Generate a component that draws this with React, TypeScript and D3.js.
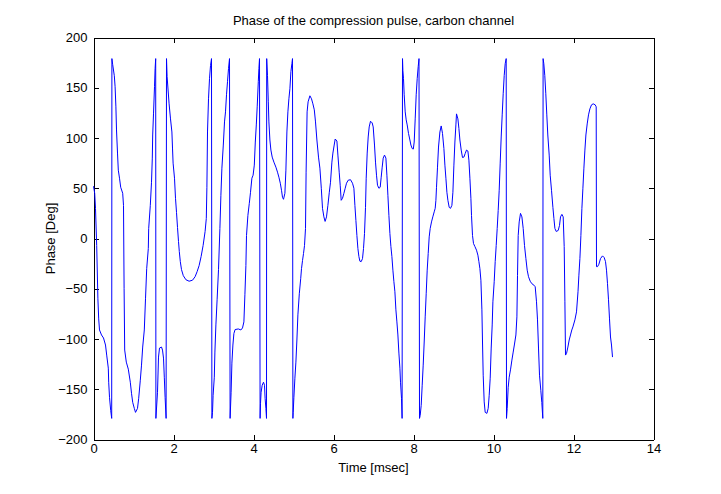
import { useRef, useEffect } from "react";
import * as d3 from "d3";

// wrapped phase of the carbon channel, [time msec, phase deg]
const phaseTrace: [number, number][] = [
  [0.0, 52], [0.03, 45], [0.05, 30], [0.08, -7], [0.11, -60], [0.13, -80], [0.15, -91],
  [0.2, -96], [0.25, -99], [0.3, -106], [0.33, -116], [0.37, -129], [0.38, -143],
  [0.4, -158], [0.43, -171], [0.455, -179],
  [0.46, 179], [0.48, 173], [0.52, 162], [0.54, 151], [0.56, 131], [0.575, 108],
  [0.6, 85], [0.62, 68], [0.65, 60], [0.68, 51], [0.73, 45], [0.75, 33], [0.765, -50],
  [0.78, -111], [0.82, -123], [0.87, -130], [0.92, -143], [0.95, -154], [0.98, -163],
  [1.02, -169], [1.05, -173], [1.1, -169], [1.13, -159], [1.17, -141], [1.2, -126],
  [1.23, -108], [1.27, -91], [1.3, -60], [1.33, -30], [1.37, -10], [1.38, 10],
  [1.42, 33], [1.45, 56], [1.47, 80], [1.48, 103], [1.5, 124], [1.525, 151],
  [1.54, 169], [1.555, 179],
  [1.56, -179], [1.6, -153], [1.625, -118], [1.65, -109], [1.7, -108], [1.725, -111],
  [1.75, -119], [1.77, -138], [1.79, -158], [1.815, -179],
  [1.825, 179], [1.84, 161], [1.89, 134], [1.925, 119], [1.96, 106], [1.975, 90],
  [1.99, 75], [2.025, 60], [2.05, 40], [2.075, 26], [2.1, 11], [2.125, -3],
  [2.145, -13], [2.17, -23], [2.2, -31], [2.245, -37], [2.31, -41], [2.39, -42.5],
  [2.475, -41.5], [2.54, -38], [2.59, -33], [2.64, -27], [2.69, -18], [2.74, -7],
  [2.79, 7], [2.82, 20], [2.835, 51], [2.85, 106], [2.875, 139], [2.9, 159],
  [2.925, 172], [2.95, 179],
  [2.96, -179], [2.975, -173], [2.99, -156], [3.02, -138], [3.035, -113], [3.06, -86],
  [3.09, -61], [3.125, -31], [3.16, 10], [3.185, 43], [3.21, 70], [3.245, 93],
  [3.275, 116], [3.3, 126], [3.325, 143], [3.35, 156], [3.375, 169], [3.4, 179],
  [3.415, -179], [3.44, -153], [3.46, -124], [3.485, -106], [3.51, -94.5],
  [3.54, -90.6], [3.62, -90], [3.685, -91], [3.725, -89], [3.76, -83], [3.785, -56],
  [3.81, -27], [3.825, 3], [3.86, 23], [3.895, 35], [3.925, 46], [3.96, 60],
  [3.99, 63], [4.02, 73], [4.045, 96], [4.07, 113], [4.0925, 131], [4.12, 156],
  [4.135, 169], [4.15, 179],
  [4.165, -179], [4.175, -164], [4.19, -153], [4.2175, -146], [4.25, -143],
  [4.275, -146], [4.29, -159], [4.31, -169], [4.325, -179],
  [4.33, 179], [4.35, 162], [4.37, 136], [4.385, 116], [4.41, 98], [4.435, 88],
  [4.4675, 81], [4.51, 76], [4.56, 71], [4.6, 66], [4.635, 61], [4.67, 55],
  [4.7, 48], [4.725, 41], [4.75, 39], [4.785, 45], [4.81, 68], [4.835, 106],
  [4.86, 126], [4.885, 139], [4.91, 149], [4.935, 166], [4.96, 174], [4.975, 179],
  [4.985, -179], [4.9925, -173], [5.01, -158], [5.035, -139], [5.06, -123],
  [5.085, -101], [5.11, -76], [5.145, -55], [5.18, -40], [5.2, -30], [5.225, -22],
  [5.25, -15], [5.275, -7], [5.3, 10], [5.315, 66], [5.34, 126], [5.365, 136],
  [5.41, 142], [5.45, 139], [5.485, 134], [5.52, 128], [5.55, 116], [5.585, 98],
  [5.625, 81], [5.66, 70], [5.695, 50], [5.725, 30], [5.76, 21.5], [5.79, 17],
  [5.825, 21.5], [5.86, 33], [5.895, 46], [5.925, 56], [5.96, 76], [5.985, 85],
  [6.0175, 93], [6.0425, 99], [6.085, 97], [6.11, 83], [6.1425, 66], [6.1675, 53],
  [6.1925, 38], [6.225, 40], [6.26, 45], [6.2925, 50], [6.325, 55], [6.3675, 58],
  [6.425, 58.5], [6.475, 55], [6.51, 50], [6.535, 33], [6.56, 18], [6.585, 3],
  [6.61, -10], [6.635, -18], [6.66, -22.6], [6.6925, -23], [6.725, -20], [6.75, -10],
  [6.775, 5], [6.8, 31], [6.8175, 60], [6.8425, 85], [6.8675, 101], [6.8925, 111],
  [6.925, 116.7], [6.9675, 115], [6.9925, 111], [7.025, 93], [7.05, 76], [7.075, 63],
  [7.1, 53], [7.135, 50], [7.1675, 51], [7.1925, 61], [7.2175, 71], [7.2425, 80],
  [7.275, 83], [7.31, 80], [7.335, 63], [7.36, 43], [7.385, 23], [7.41, 5],
  [7.435, -8], [7.46, -18], [7.485, -31.5], [7.51, -43], [7.535, -53], [7.56, -71],
  [7.585, -83], [7.61, -96], [7.635, -114], [7.66, -129], [7.675, -143], [7.7, -159],
  [7.715, -179],
  [7.725, 179], [7.735, 167], [7.75, 159], [7.7675, 143], [7.7925, 126], [7.8175, 118],
  [7.8425, 113], [7.875, 104.5], [7.91, 98], [7.935, 93], [7.9675, 89.5], [7.995, 89],
  [8.0175, 96], [8.0425, 119], [8.0675, 143], [8.0925, 159], [8.1175, 171],
  [8.1375, 179],
  [8.15, -179], [8.1675, -176], [8.1925, -166], [8.2175, -146], [8.2425, -126],
  [8.2675, -103], [8.2925, -78], [8.3175, -55], [8.3425, -31.5], [8.3675, -15],
  [8.3925, 1.6], [8.4175, 10], [8.45, 16.5], [8.4825, 21.5], [8.5175, 26.5],
  [8.5425, 30], [8.56, 38], [8.575, 51], [8.6, 71], [8.625, 91], [8.66, 106],
  [8.6925, 112], [8.725, 104.5], [8.76, 89.5], [8.785, 73], [8.81, 60], [8.835, 46],
  [8.86, 38], [8.8925, 31], [8.925, 30], [8.96, 33], [8.985, 46], [9.01, 73],
  [9.035, 96], [9.06, 113], [9.075, 124], [9.11, 119], [9.135, 109.5], [9.16, 98],
  [9.1925, 88], [9.225, 80.6], [9.26, 81], [9.2925, 84.6], [9.325, 88], [9.36, 87],
  [9.385, 78], [9.41, 60], [9.435, 40], [9.45, 23], [9.475, 3], [9.5, -5],
  [9.535, -8], [9.575, -11.6], [9.61, -16.6], [9.635, -23], [9.66, -30],
  [9.685, -41.5], [9.71, -71], [9.725, -103], [9.7425, -136], [9.7675, -162.6],
  [9.7925, -173], [9.835, -174], [9.8675, -169], [9.8925, -156], [9.9175, -139],
  [9.9425, -109], [9.9675, -86], [9.985, -63], [10.0175, -43], [10.0425, -23],
  [10.0675, -7], [10.0925, 10], [10.1175, 28], [10.1425, 48], [10.1675, 75],
  [10.1925, 101], [10.2175, 123], [10.2425, 144], [10.2675, 162], [10.2925, 174],
  [10.3175, 179],
  [10.325, -179], [10.3425, -169], [10.3675, -148], [10.3925, -138], [10.4275, -130],
  [10.46, -121], [10.4925, -113], [10.525, -105], [10.56, -96], [10.585, -78],
  [10.6, -37], [10.6175, 3], [10.6425, 16.5], [10.675, 25], [10.71, 21.5],
  [10.7425, 10], [10.775, -7], [10.81, -20], [10.8425, -31.5], [10.875, -38],
  [10.9175, -42.5], [10.96, -45], [11.01, -46.4], [11.0425, -48], [11.075, -63],
  [11.1, -81], [11.125, -109], [11.15, -136], [11.1825, -151], [11.2075, -163],
  [11.2325, -179],
  [11.24, 179], [11.2575, 174], [11.2825, 162], [11.3075, 144], [11.3325, 123],
  [11.3575, 103], [11.3925, 83], [11.4175, 63], [11.45, 48], [11.485, 31],
  [11.51, 20], [11.535, 10], [11.5675, 7], [11.6175, 8], [11.65, 13], [11.675, 21.5],
  [11.71, 24], [11.7425, 21.5], [11.7675, -8], [11.785, -63], [11.8, -116],
  [11.825, -114.5], [11.86, -108], [11.8925, -101], [11.925, -96], [11.9575, -91],
  [11.985, -88], [12.035, -81], [12.075, -73], [12.1125, -53], [12.135, -36.5],
  [12.16, -20], [12.185, 3], [12.21, 30], [12.235, 50], [12.26, 70], [12.285, 88],
  [12.31, 103], [12.3425, 114], [12.375, 123], [12.41, 129], [12.45, 133],
  [12.4925, 134], [12.5425, 133], [12.5675, 131], [12.575, -28], [12.6, -28],
  [12.635, -25.6], [12.675, -20], [12.725, -17.3], [12.7675, -19], [12.8, -23],
  [12.825, -31.5], [12.85, -45], [12.875, -61], [12.9, -80], [12.925, -98],
  [12.95, -106], [12.975, -118],
];

const xTicks = [0, 2, 4, 6, 8, 10, 12, 14];
const yTicks = [-200, -150, -100, -50, 0, 50, 100, 150, 200];

const chartTitle = "Phase of the compression pulse, carbon channel";
const xLabel = "Time [msec]";
const yLabel = "Phase [Deg]";

const W = 721;
const H = 494;
const FONT = "'Liberation Sans', Arial, sans-serif";

export default function App() {
  const svgRef = useRef<SVGSVGElement | null>(null);

  useEffect(() => {
    const svg = d3.select(svgRef.current);
    svg.selectAll("*").remove();

    const left = 93.5, right = 653.5, top = 37.5, bottom = 439.5;
    const x = d3.scaleLinear().domain([0, 14]).range([left, right]);
    const y = d3.scaleLinear().domain([-200, 200]).range([bottom, top]);

    svg.append("rect").attr("width", W).attr("height", H).attr("fill", "#fff");

    // box + inward ticks on all four sides, labels only bottom/left
    const styleAxis = (g: any) => {
      g.selectAll("path,line").attr("stroke", "#000").attr("shape-rendering", "crispEdges");
      g.selectAll("text")
        .attr("fill", "#000")
        .style("font-family", FONT)
        .style("font-size", "13px");
    };

    svg.append("g")
      .attr("transform", `translate(0,${bottom})`)
      .call(d3.axisBottom(x).tickValues(xTicks).tickSizeInner(-5).tickSizeOuter(0).tickPadding(4).tickFormat(d3.format("d")))
      .call(styleAxis);
    svg.append("g")
      .attr("transform", `translate(0,${top})`)
      .call(d3.axisTop(x).tickValues(xTicks).tickSizeInner(-5).tickSizeOuter(0).tickFormat(() => ""))
      .call(styleAxis);
    svg.append("g")
      .attr("transform", `translate(${left},0)`)
      .call(d3.axisLeft(y).tickValues(yTicks).tickSizeInner(-5).tickSizeOuter(0).tickPadding(6).tickFormat(d3.format("d")))
      .call(styleAxis);
    svg.append("g")
      .attr("transform", `translate(${right},0)`)
      .call(d3.axisRight(y).tickValues(yTicks).tickSizeInner(-5).tickSizeOuter(0).tickFormat(() => ""))
      .call(styleAxis);

    const line = d3.line<[number, number]>()
      .x((d) => x(d[0]))
      .y((d) => y(d[1]));

    svg.append("path")
      .datum(phaseTrace)
      .attr("d", line)
      .attr("fill", "none")
      .attr("stroke", "#0000ff")
      .attr("stroke-width", 1);

    svg.append("text")
      .attr("x", (left + right) / 2)
      .attr("y", 25)
      .attr("text-anchor", "middle")
      .style("font-family", FONT)
      .style("font-size", "13px")
      .text(chartTitle);

    svg.append("text")
      .attr("x", (left + right) / 2)
      .attr("y", 472)
      .attr("text-anchor", "middle")
      .style("font-family", FONT)
      .style("font-size", "13px")
      .text(xLabel);

    svg.append("text")
      .attr("transform", `translate(55,${(top + bottom) / 2}) rotate(-90)`)
      .attr("text-anchor", "middle")
      .style("font-family", FONT)
      .style("font-size", "13px")
      .text(yLabel);
  }, []);

  return (
    <svg
      ref={svgRef}
      width={W}
      height={H}
      style={{ position: "absolute", top: 0, left: 0, background: "#fff" }}
    />
  );
}
